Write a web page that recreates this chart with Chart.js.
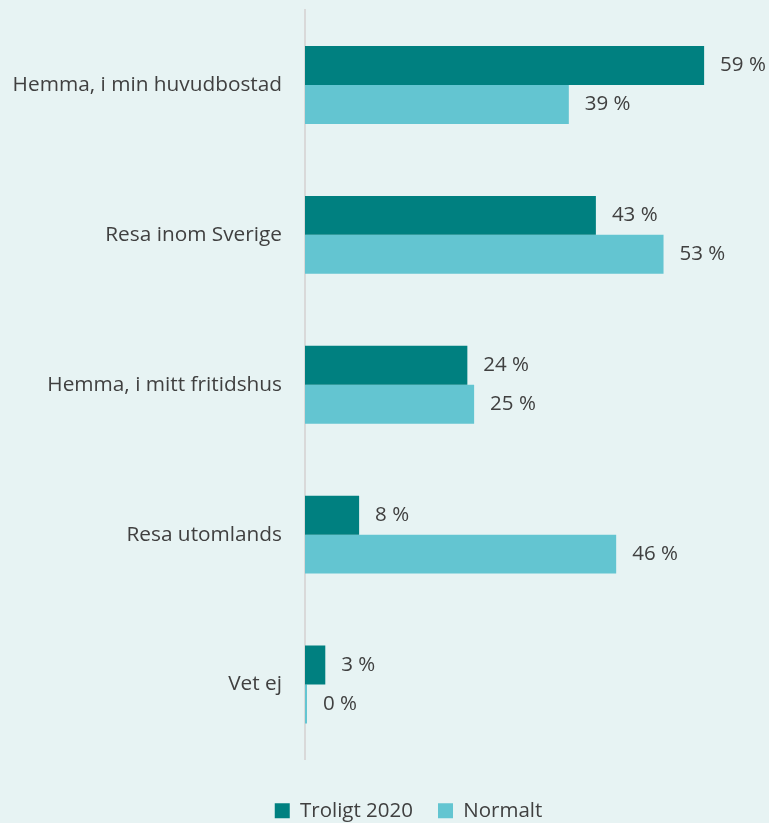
<!DOCTYPE html>
<html>
<head>
<meta charset="utf-8">
<script src="https://cdn.jsdelivr.net/npm/chart.js@4"></script>
<style>
  html, body { margin: 0; padding: 0; background: #e7f3f3; }
  #wrap { width: 769px; height: 823px; position: relative; }
</style>
</head>
<body>
<div id="wrap"><canvas id="chart"></canvas></div>
<script>
const categories = ['Hemma, i min huvudbostad', 'Resa inom Sverige', 'Hemma, i mitt fritidshus', 'Resa utomlands', 'Vet ej'];
const troligt2020 = [59, 43, 24, 8, 3];
const normalt = [39, 53, 25, 46, 0];

const textColor = '#404040';
const fontFamily = "'Open Sans', 'Liberation Sans', sans-serif";

// draws "NN %" to the right of each bar
const valueLabels = {
  id: 'valueLabels',
  afterDatasetsDraw(chart) {
    const ctx = chart.ctx;
    ctx.save();
    ctx.font = '20.5px ' + fontFamily;
    ctx.fillStyle = textColor;
    ctx.textBaseline = 'middle';
    ctx.textAlign = 'left';
    chart.data.datasets.forEach((ds, i) => {
      chart.getDatasetMeta(i).data.forEach((bar, j) => {
        ctx.fillText(ds.data[j] + ' %', bar.x + 16, bar.y);
      });
    });
    ctx.restore();
  }
};

// legend sits a little right of the canvas centre in the original
const legendShift = {
  id: 'legendShift',
  afterLayout(chart) {
    if (!chart.legend) return;
    chart.legend.left += 26;
    chart.legend.right += 26;
  }
};

new Chart(document.getElementById('chart'), {
  type: 'bar',
  data: {
    labels: categories,
    datasets: [
      {
        label: 'Troligt 2020',
        data: troligt2020,
        backgroundColor: '#008080',
        categoryPercentage: 0.52,
        barPercentage: 1.0,
      },
      {
        label: 'Normalt',
        data: normalt,
        backgroundColor: '#63c5d1',
        minBarLength: 2,
        categoryPercentage: 0.52,
        barPercentage: 1.0,
      },
    ],
  },
  options: {
    indexAxis: 'y',
    responsive: true,
    maintainAspectRatio: false,
    animation: false,
    layout: { padding: { top: 10, right: 4, left: 0, bottom: -8 } },
    plugins: {
      tooltip: { enabled: false },
      legend: {
        position: 'bottom',
        labels: {
          color: textColor,
          font: { size: 20.5, family: fontFamily },
          boxWidth: 15,
          boxHeight: 15,
          padding: 25,
        },
      },
    },
    scales: {
      x: {
        min: 0,
        max: 68,
        grid: { display: false },
        border: { display: false },
        ticks: { display: false },
        afterFit(scale) { scale.height = 16; },
      },
      y: {
        grid: { display: false },
        border: { display: true, color: '#d9d9d9', width: 2 },
        ticks: {
          color: textColor,
          font: { size: 20.8, family: fontFamily },
          padding: 15,
        },
        afterFit(scale) {
          scale.width = 305;
          scale.paddingTop = 0;
          scale.paddingBottom = 0;
        },
      },
    },
  },
  plugins: [valueLabels, legendShift],
});
</script>
</body>
</html>
